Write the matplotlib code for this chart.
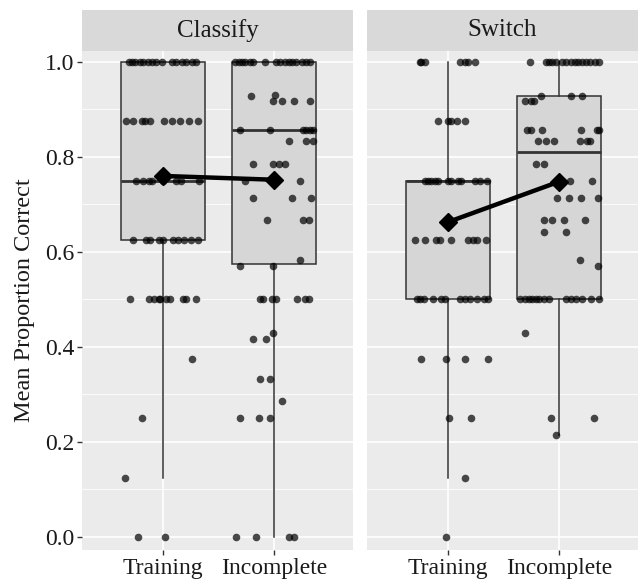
"""Mean proportion correct by phase, faceted by task (ggplot-style box + jitter)."""

import matplotlib
matplotlib.use("Agg")
import matplotlib.pyplot as plt

plt.rcParams["font.family"] = ["Liberation Serif", "DejaVu Serif"]

tasks = ["Classify", "Switch"]
phases = ["Training", "Incomplete"]

# box summaries: (whisker lo, q1, median, q3, whisker hi)
classify_training_box = (0.125, 0.625, 0.75, 1.0, 1.0)
classify_incomplete_box = (0.0, 0.575, 0.857, 1.0, 1.0)
switch_training_box = (0.125, 0.5, 0.75, 0.75, 1.0)
switch_incomplete_box = (0.215, 0.5, 0.81, 0.928, 1.0)

# condition means (diamonds)
classify_means = [0.760, 0.752]
switch_means = [0.663, 0.748]

# per-subject scores and the horizontal jitter they were drawn with
classify_training_y = [
    1.0, 1.0, 1.0, 1.0, 1.0, 1.0, 1.0, 1.0, 1.0, 1.0, 1.0, 1.0, 1.0, 1.0, 1.0,
    0.875, 0.875, 0.875, 0.875, 0.875, 0.875, 0.875, 0.875, 0.875, 0.875,
    0.75, 0.75, 0.75, 0.75, 0.75, 0.75, 0.75, 0.75,
    0.625, 0.625, 0.625, 0.625, 0.625, 0.625, 0.625, 0.625, 0.625, 0.625,
    0.5, 0.5, 0.5, 0.5, 0.5, 0.5, 0.5, 0.5, 0.5, 0.5,
    0.375, 0.25, 0.125, 0.0, 0.0,
]
classify_training_dx = [
    -0.31, -0.28, -0.25, -0.21, -0.18, -0.14, -0.10, -0.06, -0.01, 0.08, 0.12, 0.17, 0.21, 0.26, 0.30,
    -0.33, -0.27, -0.19, -0.16, -0.12, 0.01, 0.08, 0.15, 0.23, 0.31,
    -0.24, -0.18, -0.13, -0.10, 0.00, 0.12, 0.16, 0.32,
    -0.27, -0.15, -0.12, -0.04, 0.00, 0.09, 0.13, 0.19, 0.25, 0.31,
    -0.30, -0.13, -0.08, -0.04, -0.03, 0.03, 0.06, 0.18, 0.21, 0.30,
    0.26, -0.19, -0.34, -0.23, 0.02,
]

classify_incomplete_y = [
    1.0, 1.0, 1.0, 1.0, 1.0, 1.0, 1.0, 1.0, 1.0, 1.0, 1.0, 1.0, 1.0, 1.0, 1.0, 1.0,
    0.929, 0.93, 0.917, 0.917, 0.917, 0.917,
    0.857, 0.857, 0.857, 0.857, 0.857, 0.857,
    0.833, 0.833, 0.833,
    0.786, 0.786, 0.786, 0.786,
    0.75, 0.75,
    0.714, 0.714, 0.714,
    0.667, 0.667, 0.667,
    0.583, 0.571, 0.571,
    0.5, 0.5, 0.5, 0.5, 0.5, 0.5, 0.5,
    0.429, 0.417, 0.417, 0.333, 0.333, 0.286,
    0.25, 0.25, 0.25,
    0.0, 0.0, 0.0, 0.0,
]
classify_incomplete_dx = [
    -0.35, -0.32, -0.29, -0.26, -0.22, -0.19, -0.08, 0.02, 0.05, 0.10, 0.13, 0.16, 0.20, 0.25, 0.29, 0.32,
    -0.21, 0.01, -0.01, 0.07, 0.18, 0.32,
    -0.31, -0.04, 0.26, 0.29, 0.32, 0.35,
    0.13, 0.29, 0.35,
    -0.19, -0.01, 0.04, 0.10,
    -0.26, 0.23,
    -0.19, 0.16, 0.33,
    -0.06, 0.26, 0.31,
    0.23, -0.31, -0.01,
    -0.13, -0.10, -0.02, 0.02, 0.21, 0.28, 0.31,
    -0.01, -0.19, -0.07, -0.13, -0.04, 0.07,
    -0.31, -0.14, -0.04,
    -0.34, -0.16, 0.13, 0.18,
]

switch_training_y = [
    1.0, 1.0, 1.0, 1.0, 1.0, 1.0, 1.0,
    0.875, 0.875, 0.875, 0.875, 0.875,
    0.75, 0.75, 0.75, 0.75, 0.75, 0.75, 0.75, 0.75, 0.75, 0.75, 0.75, 0.75,
    0.625, 0.625, 0.625, 0.625, 0.625, 0.625, 0.625, 0.625, 0.625,
    0.5, 0.5, 0.5, 0.5, 0.5, 0.5, 0.5, 0.5, 0.5, 0.5, 0.5, 0.5,
    0.375, 0.375, 0.375, 0.375,
    0.25, 0.25, 0.125, 0.0,
]
switch_training_dx = [
    -0.25, -0.24, -0.21, 0.11, 0.15, 0.18, 0.24,
    -0.09, 0.00, 0.03, 0.08, 0.15,
    -0.21, -0.18, -0.15, -0.12, -0.09, 0.00, 0.03, 0.09, 0.12, 0.24, 0.29, 0.35,
    -0.30, -0.21, -0.11, -0.07, 0.03, 0.18, 0.22, 0.26, 0.34,
    -0.28, -0.25, -0.22, -0.14, -0.06, -0.03, 0.11, 0.15, 0.20, 0.26, 0.32, 0.36,
    -0.24, -0.02, 0.15, 0.36,
    0.01, 0.21, 0.15, -0.02,
]

switch_incomplete_y = [
    1.0, 1.0, 1.0, 1.0, 1.0, 1.0, 1.0, 1.0, 1.0, 1.0, 1.0, 1.0, 1.0, 1.0, 1.0,
    0.929, 0.929, 0.929,
    0.917, 0.917, 0.917,
    0.857, 0.857, 0.857, 0.857, 0.857, 0.857,
    0.833, 0.833, 0.833, 0.833, 0.833, 0.833,
    0.786, 0.786,
    0.75, 0.75, 0.75, 0.75,
    0.714, 0.714, 0.714, 0.714,
    0.667, 0.667, 0.667, 0.667,
    0.643, 0.643,
    0.583, 0.571,
    0.5, 0.5, 0.5, 0.5, 0.5, 0.5, 0.5, 0.5, 0.5, 0.5, 0.5, 0.5, 0.5, 0.5,
    0.429, 0.25, 0.25, 0.214,
]
switch_incomplete_dx = [
    -0.26, -0.12, -0.09, -0.06, -0.03, 0.03, 0.06, 0.11, 0.14, 0.17, 0.21, 0.24, 0.28, 0.32, 0.36,
    -0.16, 0.11, 0.21,
    -0.31, -0.25, -0.23,
    -0.29, -0.25, -0.15, 0.20, 0.34, 0.36,
    -0.19, -0.12, -0.05, 0.19, 0.25, 0.28,
    -0.21, -0.14,
    -0.02, 0.03, 0.10, 0.30,
    -0.02, 0.09, 0.20, 0.35,
    -0.14, -0.06, 0.04, 0.23,
    -0.14, 0.06,
    0.19, 0.35,
    -0.35, -0.31, -0.27, -0.24, -0.21, -0.18, -0.14, -0.09, 0.06, 0.11, 0.15, 0.21, 0.29, 0.36,
    -0.31, -0.07, 0.31, -0.03,
]

panels = [
    ("Classify", [classify_training_box, classify_incomplete_box], classify_means,
     [(classify_training_y, classify_training_dx), (classify_incomplete_y, classify_incomplete_dx)]),
    ("Switch", [switch_training_box, switch_incomplete_box], switch_means,
     [(switch_training_y, switch_training_dx), (switch_incomplete_y, switch_incomplete_dx)]),
]

W, H = 642, 582
fig = plt.figure(figsize=(W / 100, H / 100), dpi=100)

panel_top, panel_bot, strip_top = 51, 550, 10
lefts = [82, 367]
pw = 271

for i, (title, boxes, means, pts) in enumerate(panels):
    ax = fig.add_axes([lefts[i] / W, 1 - panel_bot / H, pw / W, (panel_bot - panel_top) / H])
    ax.set_facecolor("#EBEBEB")
    for s in ax.spines.values():
        s.set_visible(False)

    # grid
    for yv in [0.1, 0.3, 0.5, 0.7, 0.9]:
        ax.axhline(yv, color="white", lw=0.6, zorder=0)
    for yv in [0.0, 0.2, 0.4, 0.6, 0.8, 1.0]:
        ax.axhline(yv, color="white", lw=1.2, zorder=0)
    for xv in [1, 2]:
        ax.axvline(xv, color="white", lw=1.2, zorder=0)

    stats = [dict(whislo=b[0], q1=b[1], med=b[2], q3=b[3], whishi=b[4], label=phases[j])
             for j, b in enumerate(boxes)]
    ax.bxp(stats, positions=[1, 2], widths=0.75, showfliers=False, showcaps=False,
           patch_artist=True,
           boxprops=dict(facecolor="#D6D6D6", edgecolor="#333333", lw=1.1),
           whiskerprops=dict(color="#333333", lw=1.1),
           medianprops=dict(color="#333333", lw=2.0), zorder=2)

    for j, (ys, dxs) in enumerate(pts):
        ax.scatter([j + 1 + d for d in dxs], ys, s=30, color="black", alpha=0.7,
                   linewidths=0, zorder=3)

    ax.plot([1, 2], means, color="black", lw=3.2, marker="D", markersize=9, zorder=4)

    ax.set_xlim(0.27, 2.71)
    ax.set_ylim(-0.0274, 1.023)
    ax.set_xticks([1, 2])
    ax.set_xticklabels(phases)
    ax.set_yticks([0.0, 0.2, 0.4, 0.6, 0.8, 1.0])
    ax.set_yticklabels(["0.0", "0.2", "0.4", "0.6", "0.8", "1.0"])
    ax.tick_params(length=3.5, width=1, color="#333333", labelsize=17,
                   labelcolor="#1A1A1A", pad=2)
    if i == 0:
        ax.set_ylabel("Mean Proportion Correct", fontsize=17.5, color="#1A1A1A", labelpad=7)
    else:
        ax.tick_params(axis="y", left=False, labelleft=False)

    sax = fig.add_axes([lefts[i] / W, 1 - panel_top / H, pw / W, (panel_top - strip_top) / H])
    sax.set_facecolor("#D9D9D9")
    sax.set_xticks([])
    sax.set_yticks([])
    for s in sax.spines.values():
        s.set_visible(False)
    sax.text(0.5, 0.5, title, ha="center", va="center", fontsize=18, color="#1A1A1A",
             transform=sax.transAxes)

fig.savefig("out.png", dpi=100)
